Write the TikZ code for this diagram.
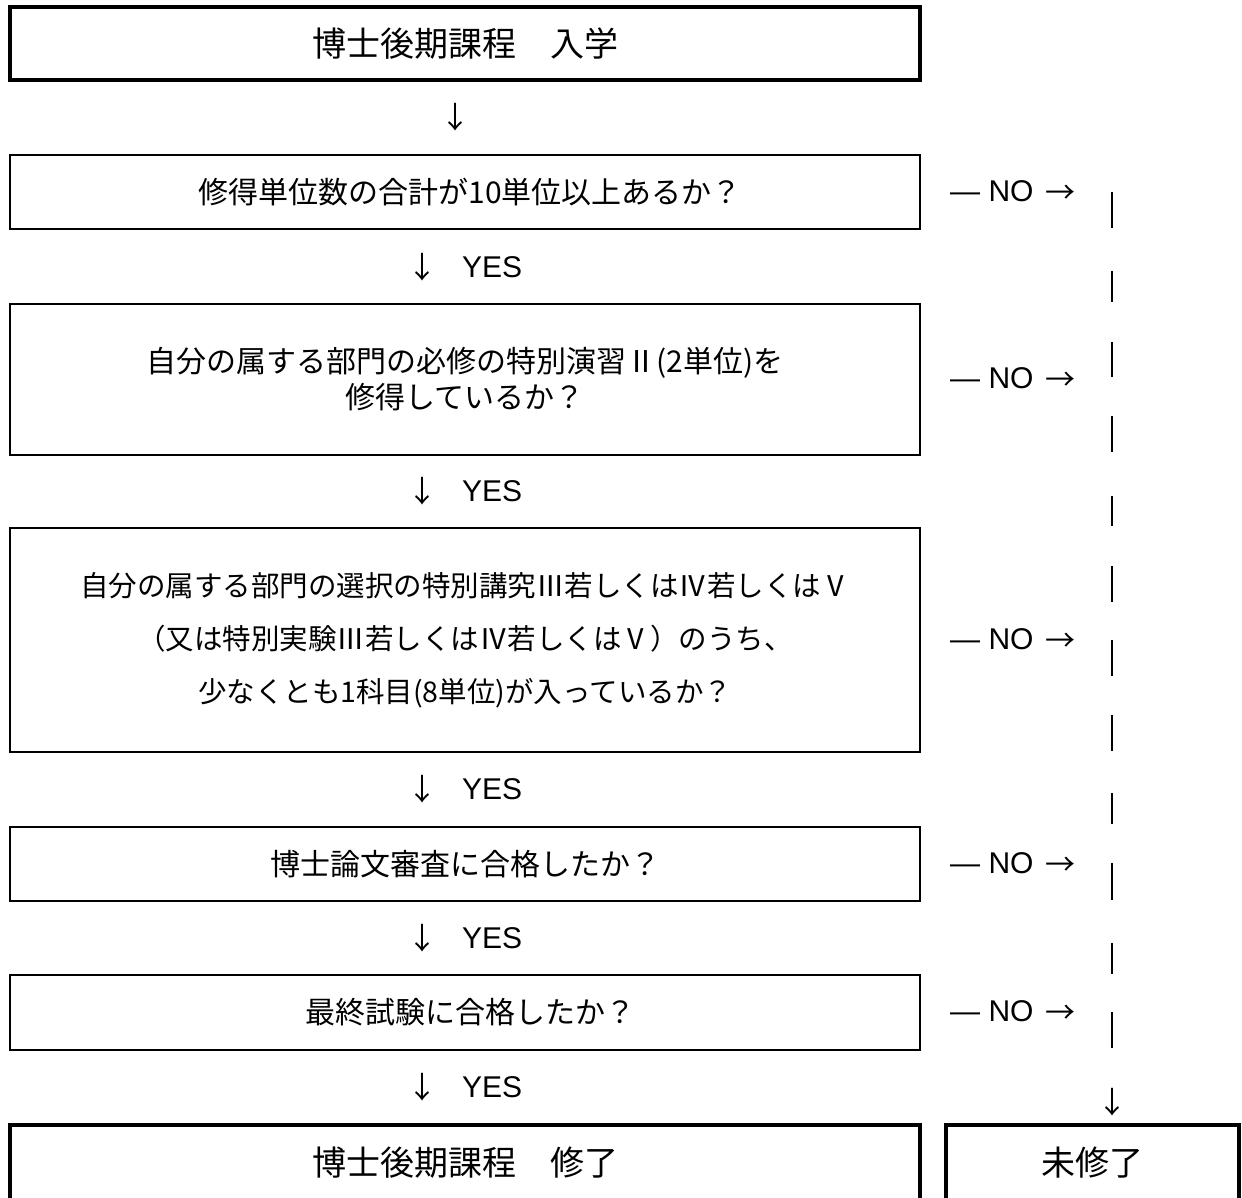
\documentclass[tikz,border=0pt]{standalone}
\usepackage{fontspec}
\setmainfont{Liberation Sans}
\newfontfamily\jp{Noto Sans CJK JP}
\begin{document}
\begin{tikzpicture}[x=1pt,y=-1pt,
  endbox/.style={draw, line width=4.5pt, inner sep=0pt, font=\jp\fontsize{34}{40}\selectfont},
  qbox/.style={draw, line width=2.8pt, minimum width=910pt, inner sep=0pt, align=center, font=\jp\fontsize{30}{36}\selectfont},
  lab/.style={inner sep=0pt, font=\fontsize{30}{36}\selectfont},
  arr/.style={inner sep=0pt, font=\jp\fontsize{30}{36}\selectfont},
  nolab/.style={lab, anchor=west},
  bar/.style={line width=1.6pt}]
\useasboundingbox (0,0) rectangle (1242,1197);
\fill[white] (0,0) rectangle (1242,1197);

% start box
\node[endbox, minimum width=910pt, minimum height=73pt] (start) at (465,43.5) {博士後期課程　入学};
\node[arr] (a0) at (455,117) {↓};

% question boxes
\node[qbox, minimum height=74pt] (q1) at (465,192) {\hspace{10pt}修得単位数の合計が10単位以上あるか？};
\node[qbox, minimum height=151pt] (q2) at (465,379.5) {自分の属する部門の必修の特別演習Ⅱ(2単位)を\\修得しているか？};
\node[qbox, minimum height=224pt, font=\jp\fontsize{28.5}{53}\selectfont] (q3) at (465,640) {自分の属する部門の選択の特別講究Ⅲ若しくはⅣ若しくはⅤ\\（又は特別実験Ⅲ若しくはⅣ若しくはⅤ）のうち、\\少なくとも1科目(8単位)が入っているか？};
\node[qbox, minimum height=74pt] (q4) at (465,864) {博士論文審査に合格したか？};
\node[qbox, minimum height=75pt] (q5) at (465,1012.5) {\hspace{10pt}最終試験に合格したか？};

% YES labels
\foreach \yy/\nm in {267/y1, 491/y2, 789/y3, 938/y4, 1087/y5} {
  \node[arr] (\nm a) at (422,\yy) {↓};
  \node[lab, anchor=west] (\nm) at (462,\yy) {YES};
}

% NO labels
\foreach \yy/\nm in {192/n1, 379/n2, 640/n3, 864/n4, 1012/n5} {
  \node[nolab] (\nm) at (950,\yy) {— NO\hspace{12pt}\raisebox{-1.5pt}{\jp →}};
}

% right column
\foreach \a/\b in {192/228, 271/302, 342/377, 416/452, 496/526, 566/602, 640/676, 715/751, 793/824, 863/900, 943/974, 1012/1048} {
  \draw[bar] (1112,\a) -- (1112,\b);
}
\node[arr] (a1) at (1112,1102) {↓};

% end boxes (cut by the lower edge)
\begin{scope}
\clip (0,0) rectangle (1242,1197);
\node[endbox, minimum width=910pt, minimum height=76pt] (done) at (465,1163) {博士後期課程　修了};
\node[endbox, minimum width=293pt, minimum height=76pt] (notdone) at (1092.5,1163) {未修了};
\end{scope}
\end{tikzpicture}
\end{document}
